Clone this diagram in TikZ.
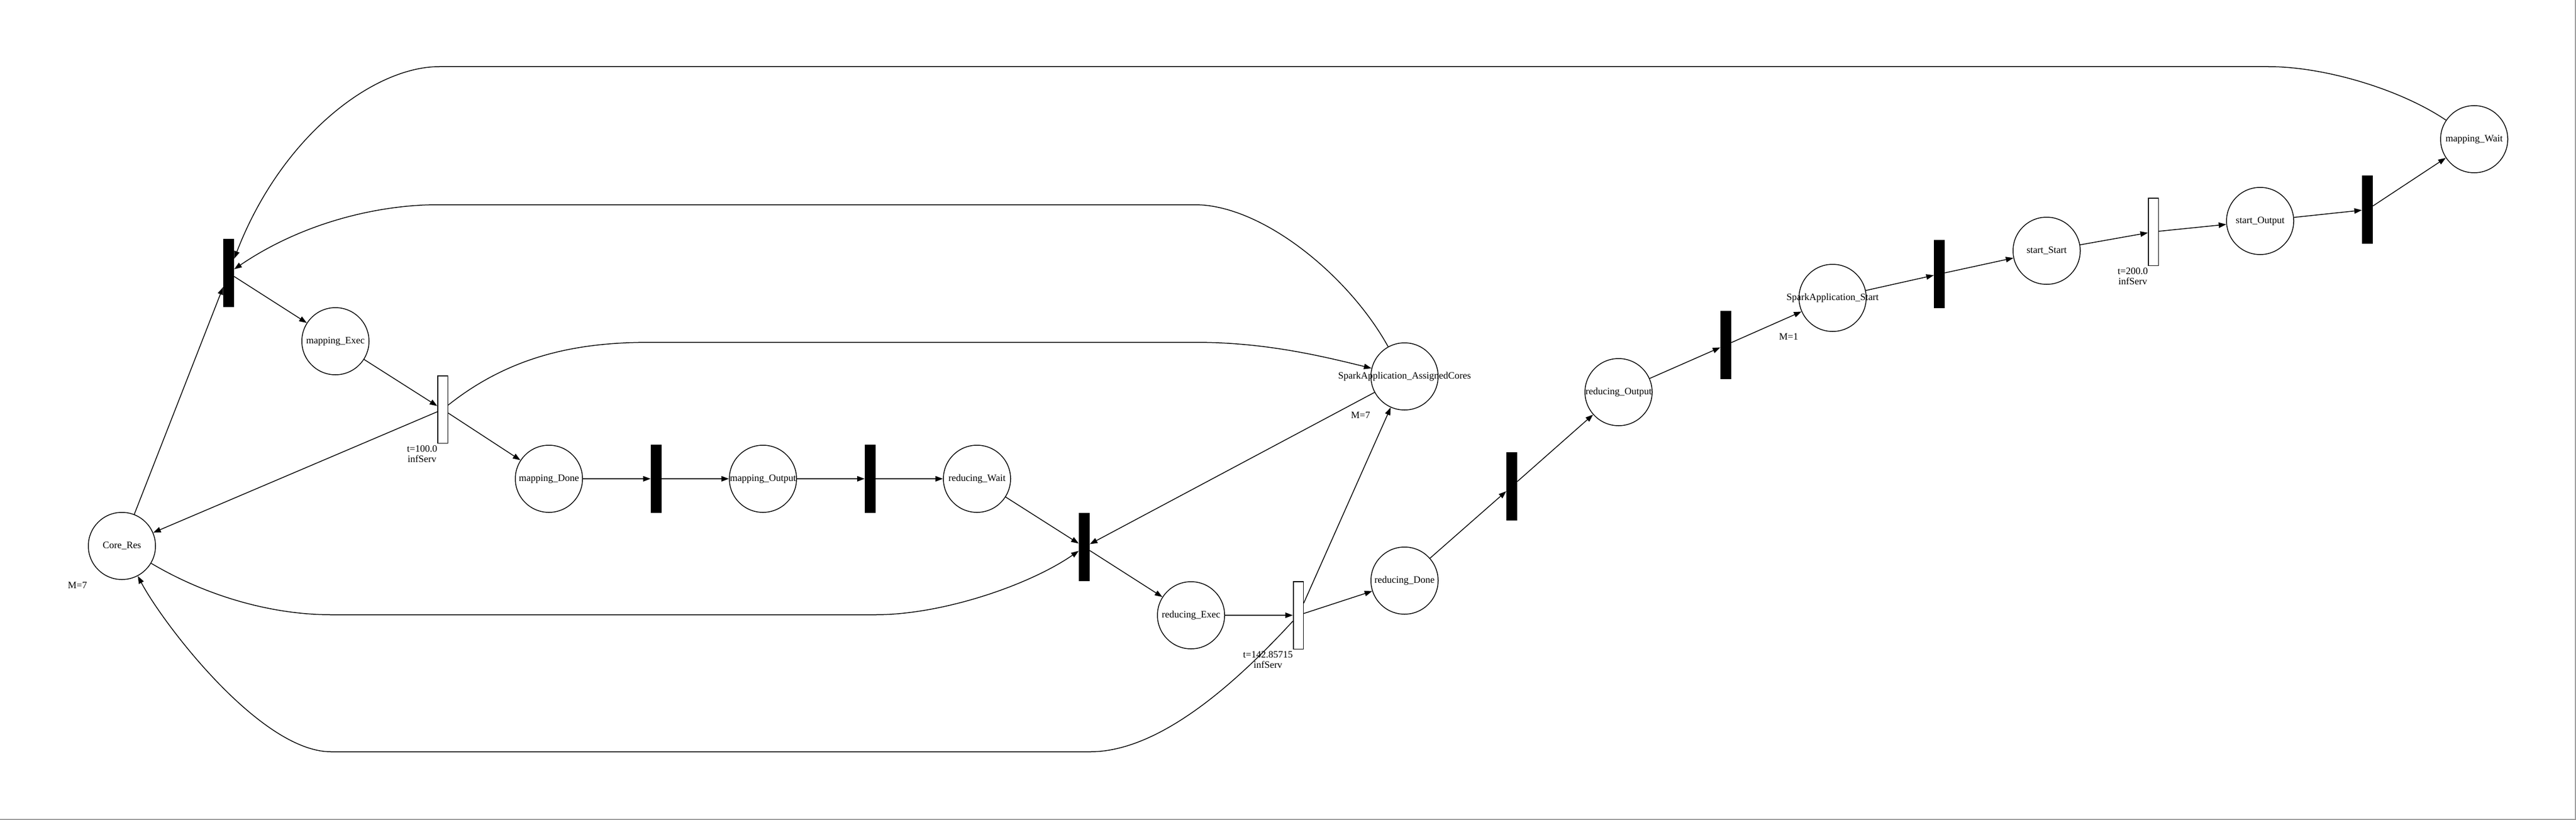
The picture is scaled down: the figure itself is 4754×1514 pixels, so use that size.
\documentclass[tikz,border=0pt]{standalone}
\usepackage{fontspec}
\setmainfont{Liberation Serif}
\usetikzlibrary{arrows.meta, positioning}

\begin{document}
\begin{tikzpicture}[x=1pt, y=-1pt, every node/.style={font={\fontsize{18}{19}\selectfont}}]
\tikzstyle{place} = [circle, draw, line width=1.5pt, minimum size=124pt, inner sep=0pt]
\tikzstyle{immtrans} = [rectangle, fill=black, minimum width=20pt, minimum height=126pt, inner sep=0pt]
\tikzstyle{timedtrans} = [rectangle, draw, fill=white, line width=1.5pt, minimum width=18.5pt, minimum height=124.5pt, inner sep=0pt]
\tikzstyle{flow} = [-{Triangle[length=14pt, width=10pt]}, line width=1.5pt]
\tikzstyle{tokens} = [inner sep=0pt]
\tikzstyle{delaylab} = [align=center, inner sep=0pt]

\useasboundingbox (0,0) rectangle (4754,1514);

% Places
\node[place, label=center:{Core\_Res}] (cres) at (225,1008) {};
\node[place, label=center:{mapping\_Exec}] (mexec) at (619,630) {};
\node[place, label=center:{mapping\_Done}] (mdone) at (1013,884) {};
\node[place, label=center:{mapping\_Output}] (mout) at (1408,884) {};
\node[place, label=center:{reducing\_Wait}] (rwait) at (1803,884) {};
\node[place, label=center:{reducing\_Exec}] (rexec) at (2198,1136) {};
\node[place, label=center:{reducing\_Done}] (rdone) at (2592,1072) {};
\node[place, label=center:{SparkApplication\_AssignedCores}] (acores) at (2592,695) {};
\node[place, label=center:{reducing\_Output}] (rout) at (2987,724) {};
\node[place, label=center:{SparkApplication\_Start}] (sapp) at (3382,550) {};
\node[place, label=center:{start\_Start}] (sstart) at (3777,463) {};
\node[place, label=center:{start\_Output}] (sout) at (4171,408) {};
\node[place, label=center:{mapping\_Wait}] (mwait) at (4566,257) {};

% Transitions
\node[immtrans] (t1) at (422,504) {};
\node[timedtrans] (t2) at (817,756) {};
\node[immtrans] (t3) at (1211,884) {};
\node[immtrans] (t4) at (1606,884) {};
\node[immtrans] (t5) at (2001,1010) {};
\node[timedtrans] (t6) at (2396,1136) {};
\node[immtrans] (t7) at (2790,898) {};
\node[immtrans] (t8) at (3185,637) {};
\node[immtrans] (t9) at (3579,506) {};
\node[timedtrans] (t10) at (3974,428) {};
\node[immtrans] (t11) at (4369,387) {};

% Markings and delays
\node[tokens] (cresm) at ([shift={(-82,73)}]cres.center) {M=7};
\node[tokens] (acoresm) at ([shift={(-81,72)}]acores.center) {M=7};
\node[tokens] (sappm) at ([shift={(-81,72)}]sapp.center) {M=1};
\node[delaylab, below left=3pt and 0pt of t2.south west] (t2lab) {t=100.0\\infServ};
\node[delaylab, below left=3pt and 0pt of t6.south west] (t6lab) {t=142.85715\\infServ};
\node[delaylab, below left=3pt and 0pt of t10.south west] (t10lab) {t=200.0\\infServ};

% Arcs
\draw[flow] (cres) -- (t1);
\draw[flow] (t1) -- (mexec);
\draw[flow] (mexec) -- (t2);
\draw[flow] (t2) -- (cres);
\draw[flow] (t2) -- (mdone);
\draw[flow] (mdone) -- (t3);
\draw[flow] (t3) -- (mout);
\draw[flow] (mout) -- (t4);
\draw[flow] (t4) -- (rwait);
\draw[flow] (rwait) -- (t5);
\draw[flow] (acores) -- (t5);
\draw[flow] (t5) -- (rexec);
\draw[flow] (rexec) -- (t6);
\draw[flow] (t6) -- (acores);
\draw[flow] (t6) -- (rdone);
\draw[flow] (rdone) -- (t7);
\draw[flow] (t7) -- (rout);
\draw[flow] (rout) -- (t8);
\draw[flow] (t8) -- (sapp);
\draw[flow] (sapp) -- (t9);
\draw[flow] (t9) -- (sstart);
\draw[flow] (sstart) -- (t10);
\draw[flow] (t10) -- (sout);
\draw[flow] (sout) -- (t11);
\draw[flow] (t11) -- (mwait);

% Long arcs
\draw[flow] (mwait) .. controls (4430,165) and (4290,123) .. (4186,123) -- (811,123) .. controls (690,123) and (520,250) .. (t1);
\draw[flow] (acores) .. controls (2490,510) and (2330,378) .. (2205,378) -- (808,378) .. controls (700,378) and (560,410) .. (t1);
\draw[flow] (t2) .. controls (950,650) and (1080,632) .. (1202,632) -- (2205,632) .. controls (2330,632) and (2430,655) .. (acores);
\draw[flow] (cres) .. controls (380,1100) and (500,1135) .. (611,1135) -- (1616,1135) .. controls (1740,1135) and (1900,1080) .. (t5);
\draw[flow] (t6) .. controls (2300,1240) and (2150,1388) .. (2012,1388) -- (611,1388) .. controls (480,1388) and (300,1150) .. (cres);

% Frame
\draw[black!40, line width=2pt] (0,1513) -- (4753,1513) -- (4753,0);
\end{tikzpicture}
\end{document}
